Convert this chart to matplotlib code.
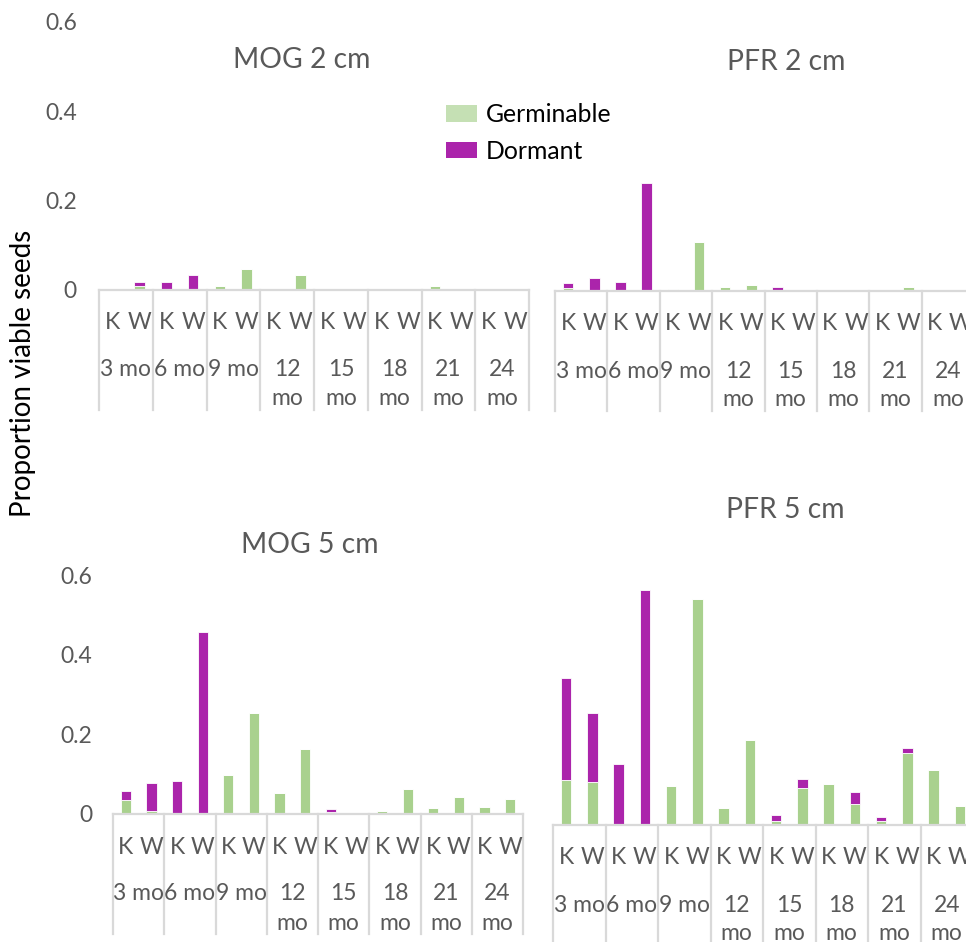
import matplotlib.pyplot as plt
import matplotlib.transforms as mtransforms
from matplotlib.patches import Patch

# -----------------------------
# Data (proportion of viable seeds)
# order: 3 mo K, 3 mo W, 6 mo K, 6 mo W, ... 24 mo K, 24 mo W
# -----------------------------
months = ["3 mo", "6 mo", "9 mo", "12\nmo", "15\nmo", "18\nmo", "21\nmo", "24\nmo"]
sites = ["K", "W"]

mog2_germ = [0.000, 0.008, 0.000, 0.000, 0.008, 0.048, 0.003, 0.033,
             0.000, 0.000, 0.000, 0.003, 0.008, 0.000, 0.003, 0.000]
mog2_dorm = [0.003, 0.010, 0.018, 0.033, 0.000, 0.000, 0.000, 0.000,
             0.000, 0.000, 0.000, 0.000, 0.000, 0.000, 0.000, 0.000]

pfr2_germ = [0.006, 0.002, 0.000, 0.000, 0.005, 0.110, 0.009, 0.013,
             0.000, 0.000, 0.000, 0.000, 0.000, 0.009, 0.002, 0.000]
pfr2_dorm = [0.011, 0.026, 0.021, 0.242, 0.000, 0.000, 0.000, 0.000,
             0.009, 0.000, 0.000, 0.000, 0.000, 0.000, 0.000, 0.000]

mog5_germ = [0.034, 0.008, 0.000, 0.000, 0.099, 0.254, 0.053, 0.163,
             0.004, 0.000, 0.008, 0.064, 0.014, 0.043, 0.018, 0.038]
mog5_dorm = [0.024, 0.070, 0.084, 0.456, 0.000, 0.000, 0.000, 0.000,
             0.009, 0.000, 0.000, 0.000, 0.000, 0.000, 0.000, 0.000]

pfr5_germ = [0.108, 0.103, 0.000, 0.000, 0.093, 0.538, 0.040, 0.202,
             0.009, 0.088, 0.098, 0.051, 0.009, 0.171, 0.130, 0.046]
pfr5_dorm = [0.242, 0.163, 0.145, 0.560, 0.000, 0.000, 0.000, 0.000,
             0.016, 0.021, 0.000, 0.027, 0.011, 0.012, 0.000, 0.000]

yticks = [0, 0.2, 0.4, 0.6]
ytick_labels = ["0", "0.2", "0.4", "0.6"]

# -----------------------------
# Style
# -----------------------------
plt.rcParams["font.family"] = ["Lato", "DejaVu Sans"]
GREEN = "#A9D18E"
PURPLE = "#AB24AB"
LEGEND_GREEN = "#C5E0B4"
GRID = "#D9D9D9"
TEXT = "#595959"
TICK_FS = 16.5

W, H = 966, 942
fig = plt.figure(figsize=(W / 100, H / 100), dpi=100)


def cat_text(ax, x, dy, s):
    # text placed dy pixels below the category axis line
    t = mtransforms.offset_copy(ax.get_xaxis_transform(), fig=fig, y=-dy, units="dots")
    ax.text(x, 0, s, transform=t, ha="center", va="center",
            fontsize=TICK_FS, color=TEXT, clip_on=False)


def panel(x0, x1, ytop, ybase, germ, dorm, title, title_xy, show_y, ypad, line_len):
    ax = fig.add_axes([x0 / W, 1 - ybase / H, (x1 - x0) / W, (ybase - ytop) / H])
    n = len(germ)
    xs = list(range(n))
    ax.bar(xs, germ, width=0.4, color=GREEN, edgecolor="white", linewidth=0.6)
    ax.bar(xs, dorm, width=0.4, bottom=germ, color=PURPLE, edgecolor="white", linewidth=0.6)
    ax.set_xlim(-0.5, n - 0.5)
    ax.set_ylim(0, 0.6)
    for s in ["top", "right", "left"]:
        ax.spines[s].set_visible(False)
    ax.spines["bottom"].set_color(GRID)
    ax.spines["bottom"].set_linewidth(1.6)
    ax.set_xticks([])
    ax.set_yticks(yticks)
    ax.tick_params(axis="y", length=0, pad=ypad, colors=TEXT, labelsize=TICK_FS)
    if show_y:
        ax.set_yticklabels(ytick_labels)
    else:
        ax.set_yticklabels([])

    # multi-level category axis
    for i in xs:
        cat_text(ax, i, 33, sites[i % 2])
    for g, lab in enumerate(months):
        lines = lab.split("\n")
        cat_text(ax, 2 * g + 0.5, 80, lines[0])
        if len(lines) > 1:
            cat_text(ax, 2 * g + 0.5, 109, lines[1])
    trans = ax.get_xaxis_transform()
    axh = ybase - ytop
    for g in range(len(months) + 1):
        ax.plot([2 * g - 0.5, 2 * g - 0.5], [0, -line_len / axh], transform=trans,
                color=GRID, lw=1.6, clip_on=False)
    fig.text(title_xy[0] / W, 1 - title_xy[1] / H, title, ha="center", va="center",
             fontsize=20.3, color=TEXT)
    return ax


panel(99, 529, 22, 290, mog2_germ, mog2_dorm, "MOG 2 cm", (302, 60), True, 16, 120)
panel(555, 974, 23, 291, pfr2_germ, pfr2_dorm, "PFR 2 cm", (786, 62), False, 16, 120)
panel(113, 523, 575, 814, mog5_germ, mog5_dorm, "MOG 5 cm", (310, 545), True, 15, 120)
panel(553, 973, 573, 825, pfr5_germ, pfr5_dorm, "PFR 5 cm", (785, 510), False, 15, 130)

fig.text(23 / W, 1 - 373 / H, "Proportion viable seeds", rotation=90,
         ha="center", va="center", fontsize=20, color="black")

handles = [Patch(facecolor=LEGEND_GREEN, edgecolor="none"),
           Patch(facecolor=PURPLE, edgecolor="none")]
fig.legend(handles, ["Germinable", "Dormant"], loc="center left",
           bbox_to_anchor=(424 / W, 1 - 133 / H), frameon=False, fontsize=17.8,
           handlelength=1.25, handleheight=0.65, handletextpad=0.35, labelspacing=0.55)

fig.savefig("out.png", dpi=100)
